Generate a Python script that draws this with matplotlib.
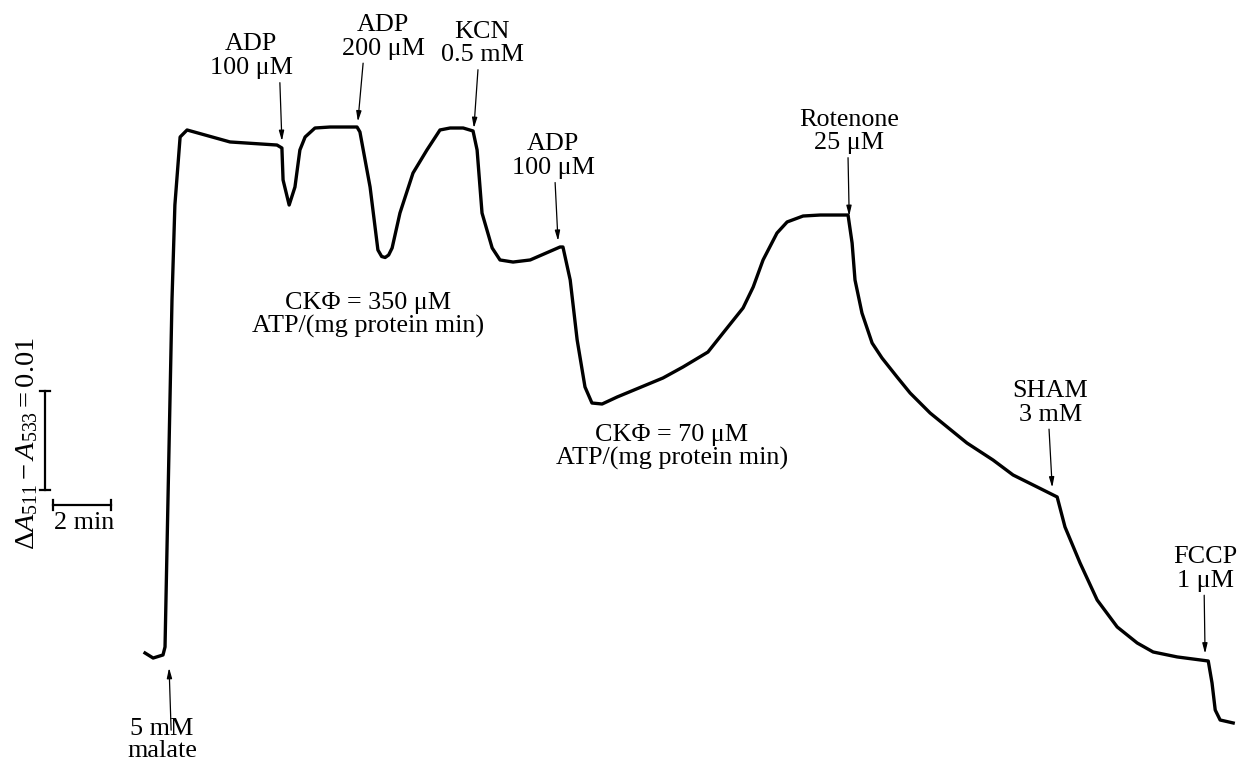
import matplotlib.pyplot as plt
import numpy as np

plt.rcParams['font.family'] = 'Liberation Serif'
plt.rcParams['mathtext.fontset'] = 'custom'
plt.rcParams['mathtext.rm'] = 'Liberation Serif'
plt.rcParams['mathtext.it'] = 'Liberation Serif:italic'

# trace: time (min) and signal (dA511-A533, units of 0.001)
time = [0.00, 0.28, 0.62, 0.69, 0.93, 1.03, 1.21, 1.45, 2.93, 4.55, 4.72, 4.76, 4.97,
        5.17, 5.34, 5.52, 5.86, 6.38, 7.31, 7.41, 7.76, 8.03, 8.16, 8.28, 8.40, 8.52,
        8.79, 9.24, 9.72, 10.17, 10.52, 10.97, 11.31, 11.45, 11.62, 11.97, 12.24,
        12.69, 13.28, 14.31, 14.41, 14.66, 14.90, 15.17, 15.41, 15.76, 16.28, 17.86,
        18.55, 19.41, 19.93, 20.62, 20.97, 21.31, 21.79, 22.14, 22.69, 23.28, 24.24,
        24.38, 24.48, 24.72, 25.07, 25.41, 25.93, 26.38, 27.07, 27.66, 28.34, 29.24,
        29.93, 30.76, 31.45, 31.72, 32.24, 32.83, 33.52, 34.21, 34.76, 35.59, 36.66,
        36.79, 36.90, 37.07, 37.52]
signal = [0.0, -0.51, -0.20, 0.61, 35.66, 45.25, 52.12, 52.83, 51.62, 51.31, 51.01,
          47.78, 45.25, 47.07, 50.81, 52.12, 53.03, 53.13, 53.13, 52.63, 47.07, 40.71,
          40.05, 39.95, 40.20, 40.91, 44.44, 48.48, 50.81, 52.83, 53.03, 53.03, 52.73,
          50.81, 44.44, 40.91, 39.70, 39.49, 39.70, 41.01, 41.01, 37.68, 31.62, 26.87,
          25.25, 25.15, 25.86, 27.78, 28.89, 30.40, 32.32, 34.85, 36.97, 39.70, 42.42,
          43.54, 44.14, 44.24, 44.24, 41.41, 37.68, 34.34, 31.31, 29.80, 27.88, 26.26,
          24.24, 22.83, 21.21, 19.49, 17.98, 16.77, 15.76, 12.73, 9.09, 5.35, 2.63,
          1.01, 0.10, -0.40, -0.81, -3.03, -5.76, -6.77, -7.07]

# additions (arrows from above)
ev_labels = ['ADP\n100 μM', 'ADP\n200 μM', 'KCN\n0.5 mM', 'ADP\n100 μM',
             'Rotenone\n25 μM', 'SHAM\n3 mM', 'FCCP\n1 μM']
ev_time = [4.72, 7.34, 11.34, 14.24, 24.28, 31.28, 36.55]
tail_time = [4.65, 7.52, 11.48, 14.14, 24.24, 31.17, 36.52]
label_time = [3.66, 8.21, 11.62, 14.07, 24.28, 31.21, 36.55]

malate_time = 0.83

rate_labels = ['CKΦ = 350 μM\nATP/(mg protein min)', 'CKΦ = 70 μM\nATP/(mg protein min)']
rate_time = [7.69, 18.17]
rate_level = [34.1, 20.8]

fig = plt.figure(figsize=(12.39, 7.6), dpi=100)
ax = fig.add_axes([0, 0, 1, 1])
ax.set_xlim(-5.0, 37.72)
ax.set_ylim(-10.81, 65.96)
ax.axis('off')

ax.plot(time, signal, color='k', linewidth=2.4, solid_joinstyle='round')

fs = 18.8
arrow_kw = dict(arrowstyle='-|>,head_length=0.6,head_width=0.15', color='k', lw=0.9,
                shrinkA=0, shrinkB=0)
for lab, t, tt, lt in zip(ev_labels, ev_time, tail_time, label_time):
    head = np.interp(t, time, signal) + 0.7
    tail = head + 5.9
    ax.annotate('', xy=(t, head), xytext=(tt, tail), arrowprops=arrow_kw)
    ax.text(lt, tail + 0.35, lab, ha='center', va='bottom', fontsize=fs,
            linespacing=1.1)

# malate arrow from below
head = signal[0] - 1.5
ax.annotate('', xy=(malate_time, head), xytext=(malate_time + 0.07, head - 6.3),
            arrowprops=arrow_kw)
ax.text(0.58, head - 5.1, '5 mM\nmalate', ha='center', va='top', fontsize=fs,
        linespacing=1.0)

for lab, t, y in zip(rate_labels, rate_time, rate_level):
    ax.text(t, y, lab, ha='center', va='center', fontsize=fs, linespacing=1.05)

# scale bars
ax.plot([-3.45, -3.45], [16.46, 26.46], color='k', lw=1.6)
ax.plot([-3.62, -3.28], [16.46, 16.46], color='k', lw=1.6)
ax.plot([-3.62, -3.28], [26.46, 26.46], color='k', lw=1.6)
ax.plot([-3.17, -1.17], [14.95, 14.95], color='k', lw=1.6)
ax.plot([-3.17, -3.17], [14.4, 15.5], color='k', lw=1.6)
ax.plot([-1.17, -1.17], [14.4, 15.5], color='k', lw=1.6)
ax.text(-2.1, 13.1, '2 min', ha='center', va='center', fontsize=fs)
ax.text(-4.05, 21.2, r'$\Delta A_{511} - A_{533} = 0.01$', rotation=90,
        ha='center', va='center', fontsize=20.5)

fig.savefig('out.png', dpi=100)
